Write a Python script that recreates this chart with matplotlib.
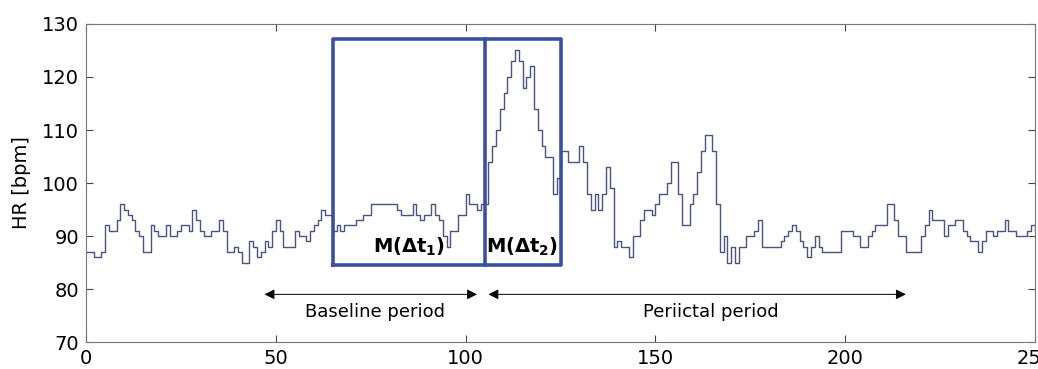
import numpy as np
import matplotlib.pyplot as plt

plt.rcParams['font.family'] = ['DejaVu Sans']
plt.rcParams['mathtext.fontset'] = 'dejavusans'

# heart rate, one value per second
hr = [87, 87, 86, 86, 87, 92, 91, 91, 93, 96,
      95, 94, 93, 91, 90, 87, 87, 92, 91, 90,
      90, 92, 90, 90, 91, 92, 92, 91, 95, 93,
      91, 90, 90, 91, 91, 93, 91, 87, 87, 88,
      87, 85, 85, 89, 88, 86, 87, 89, 88, 91,
      93, 91, 88, 88, 88, 91, 90, 90, 89, 91,
      92, 93, 95, 94, 94, 91, 92, 91, 92, 92,
      92, 93, 93, 94, 94, 96, 96, 96, 96, 96,
      96, 96, 95, 94, 94, 94, 96, 94, 93, 94,
      94, 96, 94, 93, 90, 88, 91, 91, 94, 94,
      98, 96, 96, 95, 96, 96, 104, 107, 110, 114,
      117, 120, 123, 125, 123, 118, 120, 122, 114, 110,
      107, 105, 105, 98, 101, 106, 106, 104, 104, 104,
      107, 104, 98, 95, 98, 95, 98, 103, 99, 88,
      89, 88, 88, 86, 90, 90, 93, 95, 95, 94,
      96, 98, 98, 100, 104, 104, 98, 92, 92, 96,
      98, 102, 106, 109, 109, 106, 96, 87, 90, 85,
      88, 85, 88, 88, 90, 90, 91, 93, 88, 88,
      88, 88, 88, 89, 90, 91, 92, 91, 89, 88,
      86, 88, 90, 88, 87, 87, 87, 87, 87, 91,
      91, 91, 90, 90, 88, 88, 90, 91, 92, 92,
      92, 96, 96, 93, 90, 90, 87, 87, 87, 87,
      90, 92, 95, 93, 93, 93, 90, 92, 92, 93,
      93, 91, 90, 89, 89, 87, 89, 91, 91, 90,
      91, 91, 93, 91, 91, 90, 90, 90, 91, 92, 91]
t = np.arange(len(hr))

# analysis windows and periods
win_t = [65, 105, 125]
win_hr = [84.5, 127.2]
baseline = [47, 103]
periictal = [106, 216]

box_col = '#3b4fa3'
line_col = '#4a5482'

fig = plt.figure(figsize=(10.38, 3.69), dpi=100)
ax = fig.add_axes([0.083, 0.073, 0.914, 0.862])

ax.step(t, hr, where='post', color=line_col, lw=1.0)

# windows M(dt1) and M(dt2)
ax.plot([win_t[0], win_t[2], win_t[2], win_t[0], win_t[0]],
        [win_hr[0], win_hr[0], win_hr[1], win_hr[1], win_hr[0]],
        color=box_col, lw=2.6, solid_joinstyle='round')
ax.plot([win_t[1], win_t[1]], win_hr, color=box_col, lw=2.6)
ax.text(85, 88, r'M($\mathbf{\Delta}$t$_\mathbf{1}$)', ha='center', va='center',
        fontsize=14, fontweight='bold')
ax.text(115, 88, r'M($\mathbf{\Delta}$t$_\mathbf{2}$)', ha='center', va='center',
        fontsize=14, fontweight='bold')

# period arrows
for p in (baseline, periictal):
    ax.annotate('', xy=(p[1], 79), xytext=(p[0], 79),
                arrowprops=dict(arrowstyle='<|-|>', color='k', lw=0.7,
                                mutation_scale=15, shrinkA=0, shrinkB=0))
ax.text(76, 75.6, 'Baseline period', ha='center', va='center', fontsize=13)
ax.text(164.5, 75.6, 'Periictal period', ha='center', va='center', fontsize=13)

ax.set_xlim(0, 250)
ax.set_ylim(70, 130)
ax.set_xticks([0, 50, 100, 150, 200, 250])
ax.set_yticks([70, 80, 90, 100, 110, 120, 130])
ax.tick_params(direction='in', top=True, right=True, labelsize=14,
               length=5, color='#444444', pad=5)
ax.set_ylabel('HR [bpm]', fontsize=14, labelpad=8)
for s in ax.spines.values():
    s.set_color('#777777')

fig.savefig('out.png', dpi=100)
